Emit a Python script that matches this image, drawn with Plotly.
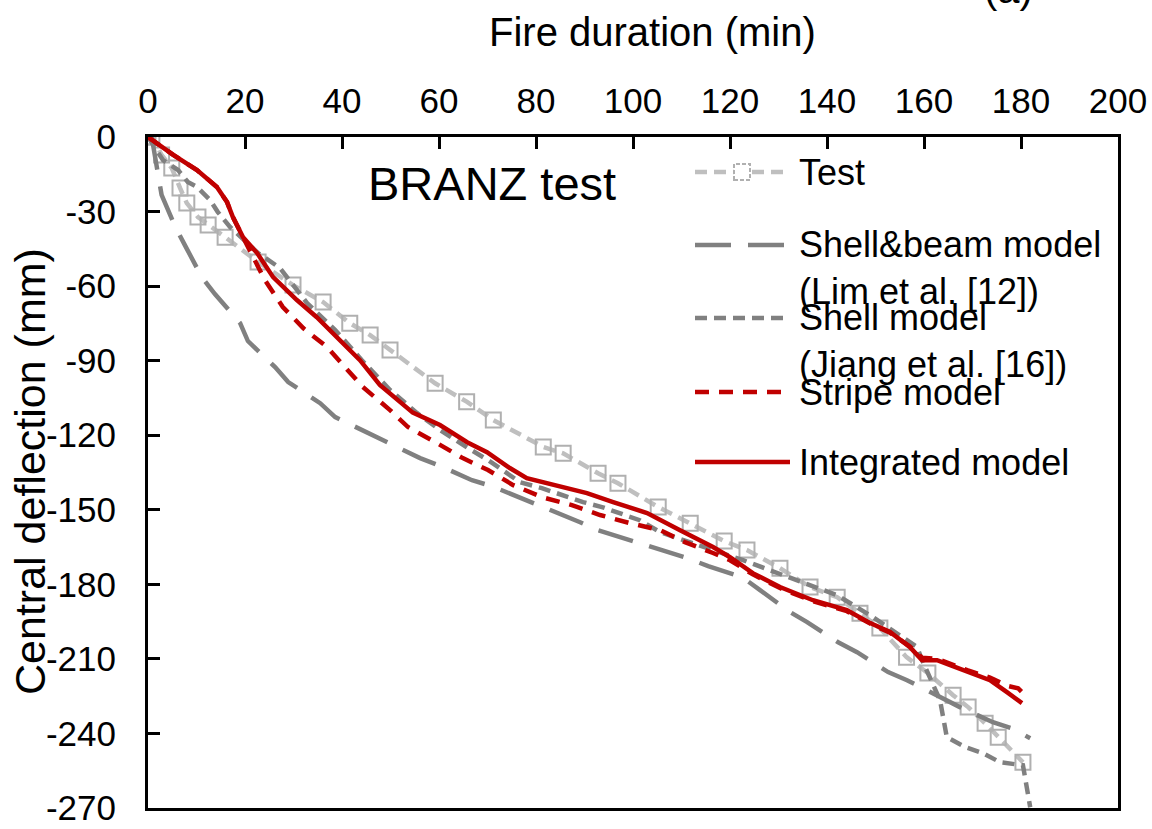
import plotly.graph_objects as go

# ---------------- data ----------------
test_x = [0, 0.8, 2.8, 4.9, 6.6, 8.0, 10.3, 12.4, 15.9, 22.7, 29.9, 36.1, 41.6, 45.8, 49.9,
          59.2, 65.7, 71.2, 81.5, 85.6, 92.8, 96.9, 105.2, 111.8, 118.8, 123.5, 130.3, 136.5,
          142.1, 146.8, 150.9, 156.4, 160.8, 166.0, 169.1, 172.6, 175.3, 180.4]
test_y = [0, 0, -7.2, -12.5, -20.5, -26.6, -32.2, -35.4, -40.3, -50.3, -59.6, -66.4, -74.9, -79.7, -85.7,
          -99.1, -106.5, -113.9, -124.7, -127.3, -135.3, -139.3, -148.9, -155.4, -162.6, -166.2, -173.5, -181.1,
          -185.2, -191.6, -197.6, -209.3, -215.7, -224.6, -229.4, -235.9, -241.5, -251.6]

sb_x = [0, 0.8, 2.8, 5.6, 7.6, 11.1, 13.8, 19.0, 20.6, 26.2, 28.9, 35.5, 38.6, 45.4, 49.3, 56.1,
        59.8, 66.8, 70.9, 78.1, 81.9, 89.1, 92.8, 100.4, 104.1, 111.3, 115.5, 122.5, 126.2, 132.4,
        135.9, 142.3, 146.2, 152.6, 156.5, 163.3, 167.4, 174.2, 178.1, 181.9]
sb_y = [0, -0.4, -23.3, -36.1, -43.5, -56.4, -63.2, -74.9, -82.1, -92.6, -98.6, -107.1, -112.7, -119.1,
        -122.8, -129.2, -132.0, -138.1, -140.5, -146.1, -149.3, -155.0, -158.2, -163.0, -165.0, -169.5,
        -172.7, -177.1, -182.3, -191.2, -195.2, -203.3, -207.3, -215.3, -218.6, -225.4, -229.4, -235.5,
        -237.9, -241.9]

shell_x = [0, 3.1, 6.2, 8.2, 10.1, 12.8, 14.4, 16.9, 22.7, 27.2, 32.8, 38.6, 44.1, 49.9, 55.5, 60.2,
           66.0, 70.1, 76.7, 81.2, 89.7, 93.6, 101.4, 105.6, 122.7, 132.4, 142.1, 149.5, 158.6, 159.6,
           163.3, 164.7, 168.5, 172.2, 175.7, 180.4, 181.9]
shell_y = [0, -9.3, -13.3, -18.1, -20.1, -25.4, -30.2, -36.2, -46.7, -52.7, -66.8, -77.7, -89.8, -101.8,
           -111.1, -117.9, -125.2, -130.0, -138.9, -141.3, -146.9, -148.9, -154.2, -159.0, -170.3, -177.5,
           -184.4, -193.2, -205.3, -210.5, -226.6, -241.5, -245.5, -248.0, -251.6, -252.8, -269.7]

stripe_x = [0, 5.2, 10.1, 14.2, 16.3, 17.5, 19.6, 22.7, 24.1, 27.8, 32.0, 36.9, 40.2, 44.3, 49.9, 53.6,
            59.6, 64.9, 70.1, 75.3, 81.2, 87.4, 93.2, 99.4, 105.6, 110.7, 116.5, 120.0, 124.7, 130.3,
            137.1, 144.1, 148.9, 153.0, 157.1, 159.6, 162.7, 165.4, 168.9, 173.6, 177.1, 179.4, 180.4]
stripe_y = [0, -7.2, -13.3, -20.1, -26.2, -32.2, -40.3, -52.3, -57.6, -68.4, -76.9, -84.5, -91.8, -100.6,
            -109.9, -116.7, -123.2, -129.2, -134.0, -140.1, -144.9, -148.1, -152.1, -155.4, -158.2, -163.0,
            -167.4, -170.3, -176.0, -181.5, -186.8, -190.8, -195.8, -199.5, -205.0, -209.5, -210.0, -212.0,
            -214.5, -217.5, -220.8, -221.8, -223.8]

int_x = [0, 5.2, 10.1, 14.2, 16.3, 17.5, 19.6, 22.5, 25.8, 30.7, 34.8, 39.0, 43.7, 47.8, 54.6, 60.2,
         65.8, 69.9, 74.6, 78.1, 84.3, 90.5, 95.9, 100.0, 102.9, 109.7, 116.5, 120.0, 124.7, 130.3,
         137.1, 144.1, 148.9, 153.0, 157.1, 159.6, 162.7, 165.4, 168.9, 173.6, 177.1, 180.2]
int_y = [0, -7.2, -13.3, -20.1, -26.2, -32.2, -40.3, -46.7, -56.4, -65.6, -72.5, -80.5, -89.8, -99.8,
         -110.9, -115.9, -122.8, -126.8, -133.2, -137.3, -140.1, -143.3, -146.9, -149.3, -151.3, -158.2,
         -165.0, -169.1, -175.5, -181.1, -186.4, -190.4, -195.6, -199.2, -205.3, -210.5, -210.5, -212.5,
         -215.3, -218.6, -223.4, -227.8]

series_names = ["Test", "Shell&beam model<br>(Lim et al. [12])", "Shell model<br>(Jiang et al. [16])",
                "Stripe model", "Integrated model"]
x_ticks = list(range(0, 201, 20))
y_ticks = list(range(-270, 1, 30))
y_ticktext = [str(v) for v in y_ticks]  # plain hyphen-minus as in the reference

# ---------------- styles ----------------
FONT = "Liberation Sans, Arial, sans-serif"
LIGHT = "#BFBFBF"
GRAY = "#808080"
RED = "#C00000"
LW = 4.5
styles = [
    dict(color=LIGHT, width=LW, dash="12px,7px"),
    dict(color=GRAY, width=LW, dash="36px,17px"),
    dict(color=GRAY, width=LW, dash="12px,7px"),
    dict(color=RED, width=LW, dash="14px,10px"),
    dict(color=RED, width=LW, dash="solid"),
]

fig = go.Figure()
data = [(test_x, test_y), (sb_x, sb_y), (shell_x, shell_y), (stripe_x, stripe_y), (int_x, int_y)]
for i, (xs, ys) in enumerate(data):
    kw = dict(x=xs, y=ys, mode="lines", line=styles[i], showlegend=False, name=series_names[i])
    if i == 0:
        kw["mode"] = "lines+markers"
        kw["marker"] = dict(symbol="square-open", size=15, color="#B0B0B0", line=dict(width=2))
    fig.add_trace(go.Scatter(**kw))

# ---------------- manual legend (paper coordinates) ----------------
L, R_, T, B = 148, 1118, 137, 808
W, H = R_ - L, B - T
def px(xp):
    return (xp - L) / W
def py(yp):
    return (B - yp) / H

def note(xp, yp, text, size, xanchor="center", angle=0):
    fig.add_annotation(xref="paper", yref="paper", x=px(xp), y=py(yp), text=text,
                       showarrow=False, xanchor=xanchor, yanchor="middle", align="left",
                       textangle=angle, font=dict(family=FONT, size=size, color="black"))

leg_rows = [172, 245, 318, 392, 462]
text_rows = [172, 267.5, 340.5, 392, 462]
for i, yy in enumerate(leg_rows):
    fig.add_shape(type="line", xref="paper", yref="paper", x0=px(695), x1=px(790),
                  y0=py(yy), y1=py(yy), line=styles[i])
    note(797, text_rows[i], series_names[i], 36, xanchor="left")
fig.add_shape(type="rect", xref="paper", yref="paper", x0=px(734), x1=px(750), y0=py(180),
              y1=py(164), line=dict(color="#B0B0B0", width=2, dash="4px,2px"), fillcolor="white")

note(492, 183, "BRANZ test", 47)
note(652, 32, "Fire duration (min)", 40)
note(30, 472, "Central deflection (mm)", 43, angle=-90)
note(1008, -11, "(a)", 40)

fig.update_xaxes(range=[0, 200], side="top", tickvals=x_ticks, ticks="inside", ticklen=12,
                 tickwidth=3, tickcolor="black", showline=True, linewidth=3, linecolor="black",
                 mirror=True, showgrid=False, zeroline=False, automargin=False,
                 tickfont=dict(family=FONT, size=35, color="black"), ticklabelstandoff=7)
fig.update_yaxes(range=[-270, 0], tickvals=y_ticks, ticktext=y_ticktext, ticks="inside", ticklen=12,
                 tickwidth=3, tickcolor="black", showline=True, linewidth=3, linecolor="black",
                 mirror=True, showgrid=False, zeroline=False, automargin=False,
                 tickfont=dict(family=FONT, size=35, color="black"), ticklabelstandoff=22)
fig.update_layout(width=1152, height=829, margin=dict(l=L, r=1152 - R_, t=T, b=829 - B),
                  plot_bgcolor="white", paper_bgcolor="white", showlegend=False)
fig.write_html("out.html", config={"displayModeBar": False},
               post_script="document.body.style.margin='0';")
